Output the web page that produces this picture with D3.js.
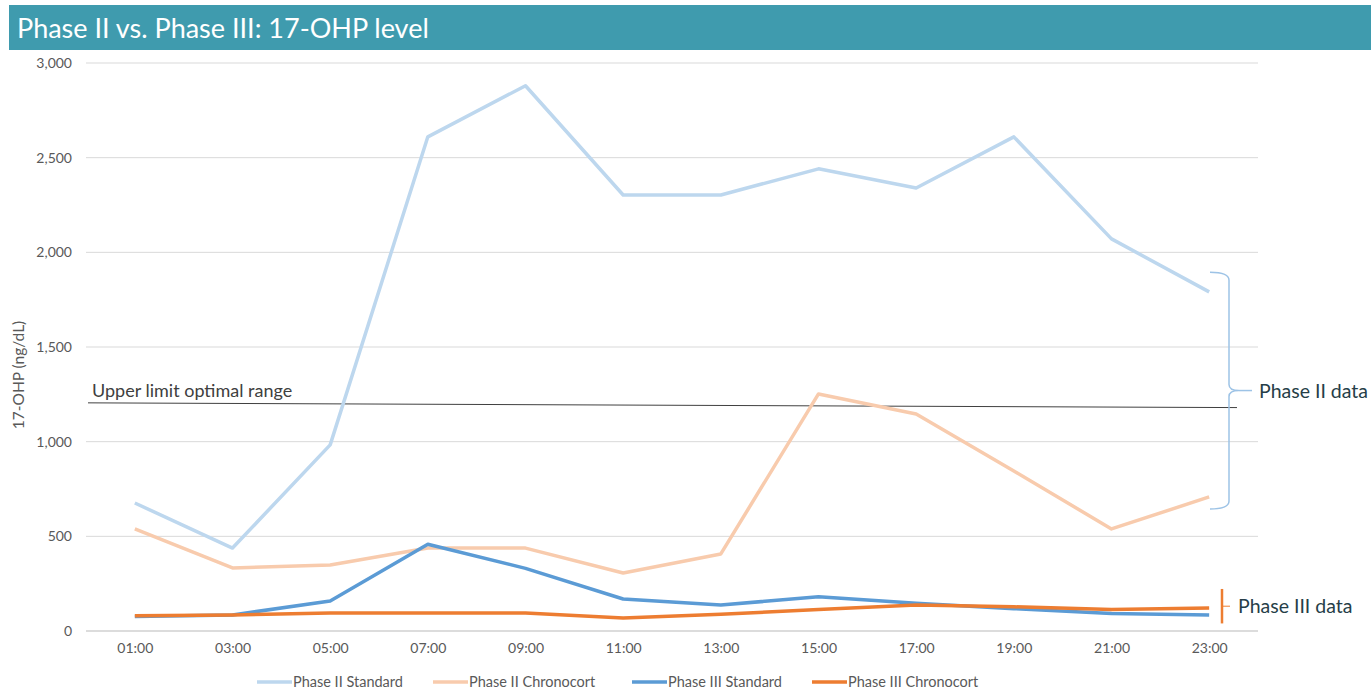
<!DOCTYPE html>
<html>
<head>
<meta charset="utf-8">
<script src="https://cdn.jsdelivr.net/npm/d3@7"></script>
<style>
  body { margin: 0; background: #fff; font-family: Lato, "Open Sans", sans-serif; }
  svg { display: block; }
</style>
</head>
<body>
<div id="chart"></div>
<script>
// data
var hours = ["01:00", "03:00", "05:00", "07:00", "09:00", "11:00", "13:00", "15:00", "17:00", "19:00", "21:00", "23:00"];
var phase2Standard   = [676, 438, 983, 2610, 2880, 2303, 2303, 2441, 2340, 2610, 2071, 1791];
var phase2Chronocort = [539, 333, 349, 438, 438, 306, 407, 1252, 1146, 845, 539, 708];
var phase3Standard   = [76, 85, 158, 458, 331, 169, 137, 181, 146, 118, 93, 85];
var phase3Chronocort = [81, 85, 95, 95, 95, 69, 88, 114, 137, 128, 114, 121];
var yTicks = [0, 500, 1000, 1500, 2000, 2500, 3000];
var upperLimit = [1205, 1180];      // hand-drawn line, left and right end
var phase2Range = [645, 1895];      // brace extent
var phase3Range = [40, 222];

var series = [
  { name: "Phase II Standard",   values: phase2Standard,   color: "#BDD7EE" },
  { name: "Phase II Chronocort", values: phase2Chronocort, color: "#F8CBAD" },
  { name: "Phase III Standard",  values: phase3Standard,   color: "#5B9BD5" },
  { name: "Phase III Chronocort", values: phase3Chronocort, color: "#ED7D31" }
];

var W = 1371, H = 690;
var svg = d3.select("#chart").append("svg").attr("width", W).attr("height", H);

// title bar
svg.append("rect").attr("x", 9).attr("y", 5).attr("width", W - 9).attr("height", 45).attr("fill", "#3F9BAE");
svg.append("text").attr("x", 17).attr("y", 38).attr("fill", "#fff")
   .style("font-size", "27px").text("Phase II vs. Phase III: 17-OHP level");

var plotL = 86, plotR = 1258, plotT = 63, plotB = 631;

var x = d3.scalePoint().domain(hours).range([plotL, plotR]).padding(0.5);
var y = d3.scaleLinear().domain([0, 3000]).range([plotB, plotT]);

// grid
svg.append("g").selectAll("line").data(yTicks).enter().append("line")
   .attr("x1", plotL).attr("x2", plotR)
   .attr("y1", d => y(d)).attr("y2", d => y(d))
   .attr("stroke", d => d === 0 ? "#d0d0d0" : "#d9d9d9").attr("stroke-width", d => d === 0 ? 1.5 : 1);

var yAxis = svg.append("g").attr("transform", "translate(" + plotL + ",0)")
   .call(d3.axisLeft(y).tickValues(yTicks).tickFormat(d3.format(",")).tickSize(0).tickPadding(14));
yAxis.select(".domain").remove();
yAxis.selectAll("text").attr("fill", "#595959").style("font-size", "14px").style("font-family", "Lato, sans-serif");

var xAxis = svg.append("g").attr("transform", "translate(0," + plotB + ")")
   .call(d3.axisBottom(x).tickSize(0).tickPadding(12));
xAxis.select(".domain").remove();
xAxis.selectAll("text").attr("fill", "#595959").style("font-size", "14px").style("font-family", "Lato, sans-serif");

svg.append("text").attr("transform", "translate(24,375) rotate(-90)")
   .attr("text-anchor", "middle").attr("fill", "#595959").style("font-size", "15.5px")
   .text("17-OHP (ng/dL)");

// upper limit line
svg.append("line").attr("x1", 88).attr("x2", 1237)
   .attr("y1", y(upperLimit[0])).attr("y2", y(upperLimit[1]))
   .attr("stroke", "#404040").attr("stroke-width", 1);
svg.append("text").attr("x", 92).attr("y", y(upperLimit[0]) - 6)
   .attr("fill", "#404040").style("font-size", "18px").text("Upper limit optimal range");

// series lines
var line = d3.line().x((d, i) => x(hours[i])).y(d => y(d));
svg.append("g").selectAll("path").data(series).enter().append("path")
   .attr("d", d => line(d.values))
   .attr("fill", "none").attr("stroke", d => d.color).attr("stroke-width", 3.5)
   .attr("stroke-linejoin", "round");

// phase II brace
var bx = 1229, top2 = y(phase2Range[1]), bot2 = y(phase2Range[0]), mid2 = (top2 + bot2) / 2;
var brace = "M1210," + top2 + " Q" + bx + "," + top2 + " " + bx + "," + (top2 + 8) +
            " L" + bx + "," + (mid2 - 6) + " Q" + bx + "," + mid2 + " " + (bx + 10) + "," + mid2 +
            " Q" + bx + "," + mid2 + " " + bx + "," + (mid2 + 6) +
            " L" + bx + "," + (bot2 - 8) + " Q" + bx + "," + bot2 + " 1210," + bot2;
svg.append("path").attr("d", brace).attr("fill", "none").attr("stroke", "#9DC3E6").attr("stroke-width", 1.5);
svg.append("line").attr("x1", bx + 10).attr("x2", 1252).attr("y1", mid2).attr("y2", mid2)
   .attr("stroke", "#9DC3E6").attr("stroke-width", 1.5);
svg.append("text").attr("x", 1259).attr("y", mid2 + 7).attr("fill", "#263E48")
   .style("font-size", "19.5px").text("Phase II data");

// phase III bracket
var b3 = 1222, top3 = y(phase3Range[1]), bot3 = y(phase3Range[0]), mid3 = (top3 + bot3) / 2;
svg.append("line").attr("x1", b3).attr("x2", b3).attr("y1", top3).attr("y2", bot3)
   .attr("stroke", "#ED7D31").attr("stroke-width", 2.5);
svg.append("line").attr("x1", b3).attr("x2", b3 + 8).attr("y1", mid3).attr("y2", mid3)
   .attr("stroke", "#ED7D31").attr("stroke-width", 1);
svg.append("text").attr("x", 1238).attr("y", mid3 + 7).attr("fill", "#263E48")
   .style("font-size", "19.5px").text("Phase III data");

// legend
var legendX = [257, 433, 632, 812];
var lg = svg.append("g").selectAll("g").data(series).enter().append("g")
   .attr("transform", (d, i) => "translate(" + legendX[i] + ",682)");
lg.append("line").attr("x1", 0).attr("x2", 35).attr("y1", 0).attr("y2", 0)
   .attr("stroke", d => d.color).attr("stroke-width", 3.5);
lg.append("text").attr("x", 36).attr("y", 5).attr("fill", "#595959")
   .style("font-size", "14.5px").text(d => d.name);
</script>
</body>
</html>
